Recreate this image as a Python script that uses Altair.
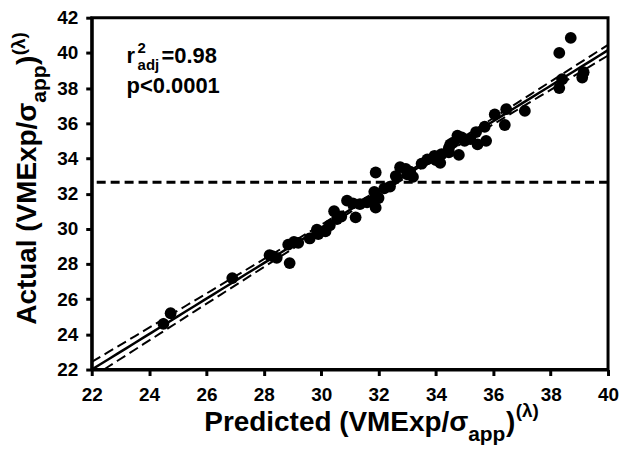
import numpy as np
import pandas as pd
import altair as alt

# ---- data ----
predicted = [24.5, 24.75, 26.9, 28.2, 28.3, 28.45, 28.9, 28.85, 29.05, 29.2,
             29.6, 29.85, 30.15, 30.45, 30.55, 30.7, 30.9, 31.1, 31.2, 31.35,
             31.6, 31.85, 31.9, 32.0, 31.9, 31.8, 32.4, 32.6, 32.75, 32.95,
             33.1, 33.2, 33.7, 33.95, 34.2, 34.15, 34.45, 34.5, 34.75, 34.8,
             34.45, 34.6, 35.4, 35.45, 35.7, 35.75, 36.05, 36.45, 36.4, 37.1,
             38.3, 38.7, 38.4, 38.3, 39.15, 39.1, 33.0, 34.0, 35.0, 35.2,
             30.3, 29.9, 32.2, 34.9, 33.5]
actual = [24.6, 25.2, 27.2, 28.5, 28.45, 28.35, 28.05, 29.1, 29.25, 29.2,
          29.45, 29.95, 29.85, 31.0, 30.55, 30.7, 31.6, 31.45, 30.65, 31.4,
          31.5, 32.1, 31.2, 31.75, 33.2, 31.6, 32.4, 33.0, 33.5, 33.4,
          33.25, 32.95, 33.95, 34.15, 34.25, 33.75, 34.35, 34.8, 35.3, 34.2,
          34.6, 34.9, 35.5, 34.8, 35.8, 35.0, 36.5, 36.8, 35.9, 36.7,
          40.0, 40.85, 38.5, 38.0, 38.9, 38.6, 33.1, 33.9, 35.0, 35.1,
          30.2, 29.7, 32.3, 35.2, 33.7]
mean_actual_line = 32.65
x_ticks = list(range(22, 41, 2))
y_ticks = list(range(22, 43, 2))
x_domain = [22, 40]
y_domain = [22, 42]

# ---- regression fit with 95% confidence band ----
xa = np.array(predicted)
ya = np.array(actual)
n = len(xa)
slope, intercept = np.polyfit(xa, ya, 1)
resid = ya - (intercept + slope * xa)
s = np.sqrt(np.sum(resid ** 2) / (n - 2))
xm = xa.mean()
sxx = np.sum((xa - xm) ** 2)
tval = 2.0
gx = np.linspace(x_domain[0], x_domain[1], 61)
fit = intercept + slope * gx
se = s * np.sqrt(1.0 / n + (gx - xm) ** 2 / sxx)
fit_df = pd.DataFrame({"x": gx, "fit": fit, "lo": fit - tval * se, "hi": fit + tval * se})
pts = pd.DataFrame({"Predicted": predicted, "Actual": actual})

W, H = 518, 353
FONT = "Liberation Sans"

xs = alt.Scale(domain=x_domain, nice=False, zero=False)
ys = alt.Scale(domain=y_domain, nice=False, zero=False)
xax = alt.Axis(values=x_ticks, title=None, grid=False, labelOverlap=False)
yax = alt.Axis(values=y_ticks, title=None, grid=False, labelOverlap=False)

points = alt.Chart(pts).mark_circle(size=140, color="black", opacity=1).encode(
    x=alt.X("Predicted:Q", scale=xs, axis=xax),
    y=alt.Y("Actual:Q", scale=ys, axis=yax),
)
line = alt.Chart(fit_df).mark_line(color="black", strokeWidth=2.5, clip=True).encode(
    x=alt.X("x:Q", scale=xs, axis=xax), y=alt.Y("fit:Q", scale=ys, axis=yax))
lo = alt.Chart(fit_df).mark_line(color="black", strokeWidth=2, strokeDash=[10, 5], clip=True).encode(
    x=alt.X("x:Q", scale=xs, axis=xax), y=alt.Y("lo:Q", scale=ys, axis=yax))
hi = alt.Chart(fit_df).mark_line(color="black", strokeWidth=2, strokeDash=[10, 5], clip=True).encode(
    x=alt.X("x:Q", scale=xs, axis=xax), y=alt.Y("hi:Q", scale=ys, axis=yax))
rule = alt.Chart(pd.DataFrame({"y": [mean_actual_line]})).mark_rule(
    color="black", strokeWidth=3, strokeDash=[9, 5]).encode(y=alt.Y("y:Q", scale=ys, axis=yax))

# ---- text pieces (titles with sub/superscripts, annotation) ----
AW = {"P": .667, "r": .389, "e": .556, "d": .611, "i": .278, "c": .556, "t": .333,
      " ": .278, "(": .333, ")": .333, "V": .667, "M": .833, "E": .667, "x": .556,
      "p": .611, "/": .278, "σ": .62, "a": .556, "A": .722, "u": .611, "l": .278,
      "λ": .556}


def tw(s, size):
    return sum(AW.get(ch, .556) for ch in s) * size


def txt(t, x, y, size, angle=0, align="left"):
    return alt.Chart(pd.DataFrame({"t": [t]})).mark_text(
        font=FONT, fontWeight="bold", fontSize=size, color="black",
        align=align, baseline="alphabetic", angle=angle,
    ).encode(text="t:N", x=alt.value(x), y=alt.value(y))


texts = []
# x title
MAIN, SUB, SUP = 28, 21, 19
x0 = 113
texts.append(txt("Predicted (VMExp/σ", x0, 415, MAIN))
x1 = x0 + tw("Predicted (VMExp/σ", MAIN) + 1.5
texts.append(txt("app", x1, 425, SUB))
x2 = x1 + tw("app", SUB) + 0.5
texts.append(txt(")", x2, 415, MAIN))
x3 = x2 + tw(")", MAIN) + 0.5
texts.append(txt("(λ)", x3, 401, SUP))

# y title (rotated, reading upward)
bx = -56
y0 = 308
texts.append(txt("Actual (VMExp/σ", bx, y0, MAIN, angle=270))
y1 = y0 - tw("Actual (VMExp/σ", MAIN) - 1.5
texts.append(txt("app", bx + 10, y1, SUB, angle=270))
y2 = y1 - tw("app", SUB) - 0.5
texts.append(txt(")", bx, y2, MAIN, angle=270))
y3 = y2 - tw(")", MAIN) - 0.5
texts.append(txt("(λ)", bx - 11, y3, SUP, angle=270))

# annotation
texts.append(txt("r", 35, 45, 22))
texts.append(txt("2", 46, 35, 15))
texts.append(txt("adj", 46, 52, 15))
texts.append(txt("=0.98", 70, 45, 22))
texts.append(txt("p<0.0001", 35, 76, 22))

chart = alt.layer(rule, lo, hi, line, points, *texts).properties(
    width=W, height=H,
    autosize=alt.AutoSizeParams(type="none"),
    padding={"left": 84, "top": 9, "right": 11, "bottom": 80},
).configure_view(
    stroke="black", strokeWidth=3
).configure_axis(
    domainColor="black", domainWidth=3, tickColor="black", tickWidth=3, tickSize=6,
    labelFont=FONT, labelFontWeight="bold", labelFontSize=19, labelColor="black",
    labelFlush=False, labelOverlap=False,
).configure_axisX(labelPadding=10).configure_axisY(labelPadding=8)

chart.save("out.html", embed_options={"renderer": "svg", "actions": False})
